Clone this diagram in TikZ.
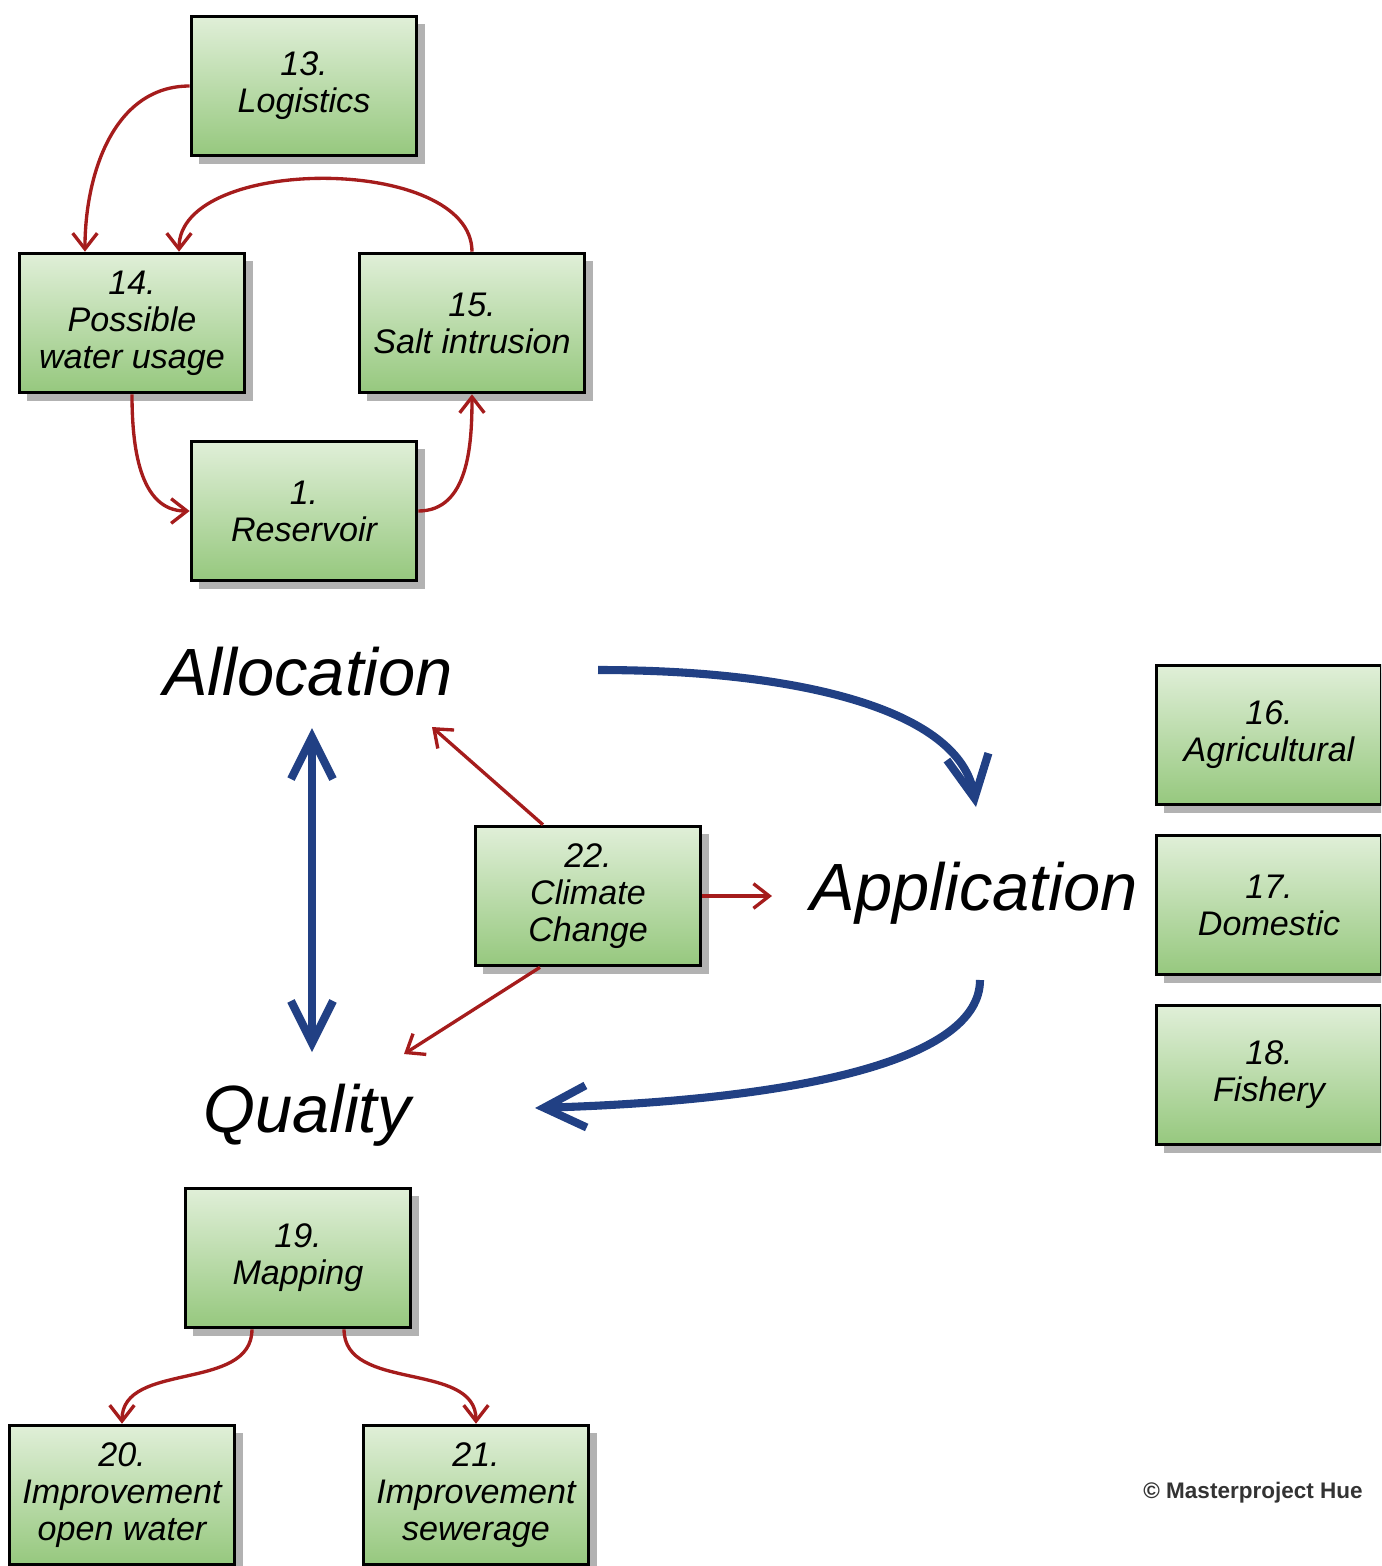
\documentclass[tikz,border=0pt]{standalone}
\usepackage{fontspec}
\setmainfont{Liberation Sans}
\usetikzlibrary{arrows.meta}
\usetikzlibrary{shadows}
\definecolor{boxtop}{RGB}{224,239,216}
\definecolor{boxbottom}{RGB}{150,200,126}
\definecolor{linkred}{RGB}{165,28,28}
\definecolor{flowblue}{RGB}{33,64,132}
\tikzset{
every picture/.style={x=0.01cm, y=0.01cm},
%%%%%%%%%%  Node styles
box/.style={draw=black, line width=1pt, top color=boxtop,
            bottom color=boxbottom, minimum width=2.25cm,
            minimum height=1.39cm, inner sep=0pt, align=center,
            font=\itshape\fontsize{9.7}{10.5}\selectfont,
            drop shadow={shadow xshift=0.08cm, shadow yshift=-0.08cm,
                         fill=black!30, opacity=1}},
heading/.style={font=\itshape\fontsize{19}{22}\selectfont,
                inner sep=0pt, anchor=base},
%%%% different line styles:
link/.style={draw=linkred, line width=0.95pt,
             >={Straight Barb[length=4.5pt,width=7pt]}},
flow/.style={draw=flowblue, line width=2.3pt,
             >={Straight Barb[length=0.42cm,width=0.42cm]}}
}

\begin{document}
\begin{tikzpicture}
\useasboundingbox (0,0) rectangle (1381,-1566);
\clip (0,0) rectangle (1381,-1566);
%%%%%%% allocation
\node[box] (logistics) at (304,-86) {13.\\Logistics};
\node[box] (usage) at (132,-323) {14.\\Possible\\water usage};
\node[box] (salt) at (472,-323) {15.\\Salt intrusion};
\node[box] (reservoir) at (304,-511) {1.\\Reservoir};
%%%%%%% application
\node[box] (agri) at (1269,-735) {16.\\Agricultural};
\node[box] (domestic) at (1269,-905) {17.\\Domestic};
\node[box] (fishery) at (1269,-1075) {18.\\Fishery};
%%%%%%% quality
\node[box] (mapping) at (298,-1258) {19.\\Mapping};
\node[box] (openwater) at (122,-1495) {20.\\Improvement\\open water};
\node[box] (sewerage) at (476,-1495) {21.\\Improvement\\sewerage};
\node[box] (climate) at (588,-896) {22.\\Climate\\Change};
%%%%%%% headings
\node[heading] (alloc) at (308,-695) {Allocation};
\node[heading] (appl) at (974,-910) {Application};
\node[heading] (qual) at (307,-1132) {Quality};
\node[font=\bfseries\fontsize{6.4}{7.5}\selectfont, text=black!80] (credit)
     at (1253,-1493) {\textcopyright{} Masterproject Hue};
%%%%%%% free ends
\coordinate (allocout) at (598,-670);
\coordinate (applin) at (976,-807);
\coordinate (applout) at (980,-980);
\coordinate (qualin) at (535,-1108);
\coordinate (alloctip) at (312,-728);
\coordinate (qualtip) at (312,-1052);
\coordinate (alloclink) at (432,-727);
\coordinate (appllink) at (772,-896);
\coordinate (quallink) at (404,-1054);
%%%%%%% red links
\draw[link,->] (logistics.west) to[out=180,in=90] ([xshift=-0.47cm]usage.north);
\draw[link,->] (salt.north) to[out=90,in=90,looseness=0.85] ([xshift=0.47cm]usage.north);
\draw[link,->] (usage.south) to[out=-90,in=180] (reservoir.west);
\draw[link,->] (reservoir.east) to[out=0,in=-90] (salt.south);
\draw[link,->] ([xshift=-0.45cm]climate.north) -- (alloclink);
\draw[link,->] (climate.east) -- (appllink);
\draw[link,->] ([xshift=-0.48cm]climate.south) -- (quallink);
\draw[link,->] ([xshift=-0.46cm]mapping.south) to[out=-90,in=90] (openwater.north);
\draw[link,->] ([xshift=0.46cm]mapping.south) to[out=-90,in=90] (sewerage.north);
%%%%%%% blue flows
\draw[flow,->] (allocout) .. controls (800,-670) and (960,-710) .. (applin);
\draw[flow,->] (applout) .. controls (980,-1060) and (800,-1100) .. (qualin);
\draw[flow,<->] (alloctip) -- (qualtip);
\end{tikzpicture}
\end{document}
